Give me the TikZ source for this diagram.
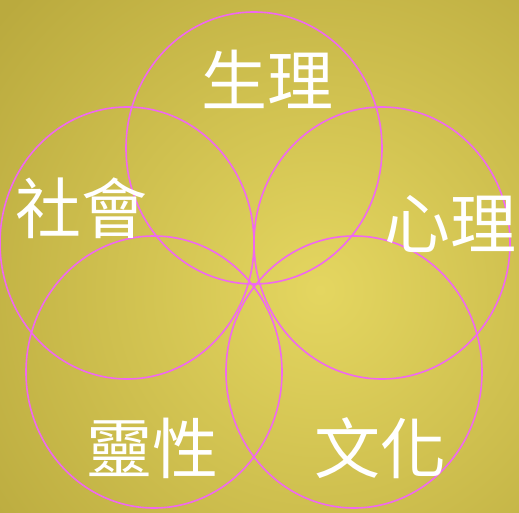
\documentclass[tikz,border=0pt]{standalone}
\usepackage{fontspec}
\newfontfamily\cjk{Noto Sans CJK TC}
\definecolor{bgout}{RGB}{186,170,62}
\definecolor{bgin}{RGB}{228,214,96}
\definecolor{ring}{RGB}{240,104,240}
\tikzset{
  ringline/.style={draw=ring, line width=1.6pt},
  lbl/.style={text=white, inner sep=0pt, font=\cjk\fontsize{66}{66}\selectfont}
}
\begin{document}
\begin{tikzpicture}[x=1pt,y=-1pt]
\useasboundingbox (0,0) rectangle (519,513);
\begin{scope}
\clip (0,0) rectangle (519,513);
\fill[bgout] (0,0) rectangle (519,513);
\shade[inner color=bgin, outer color=bgout] (320,290) circle (420);
\end{scope}
\draw[ringline] (254,148) ellipse [x radius=128, y radius=136];
\draw[ringline] (127,243) ellipse [x radius=127, y radius=136];
\draw[ringline] (382,243) ellipse [x radius=128, y radius=136];
\draw[ringline] (154,372) ellipse [x radius=128, y radius=136];
\draw[ringline] (354,372) ellipse [x radius=128, y radius=136];
\node[lbl] (sheng) at (267,79) {生理};
\node[lbl] (she) at (81,208) {社會};
\node[lbl] (xin) at (450,224) {心理};
\node[lbl] (ling) at (152,448) {靈性};
\node[lbl] (wen) at (380,448) {文化};
\end{tikzpicture}
\end{document}
